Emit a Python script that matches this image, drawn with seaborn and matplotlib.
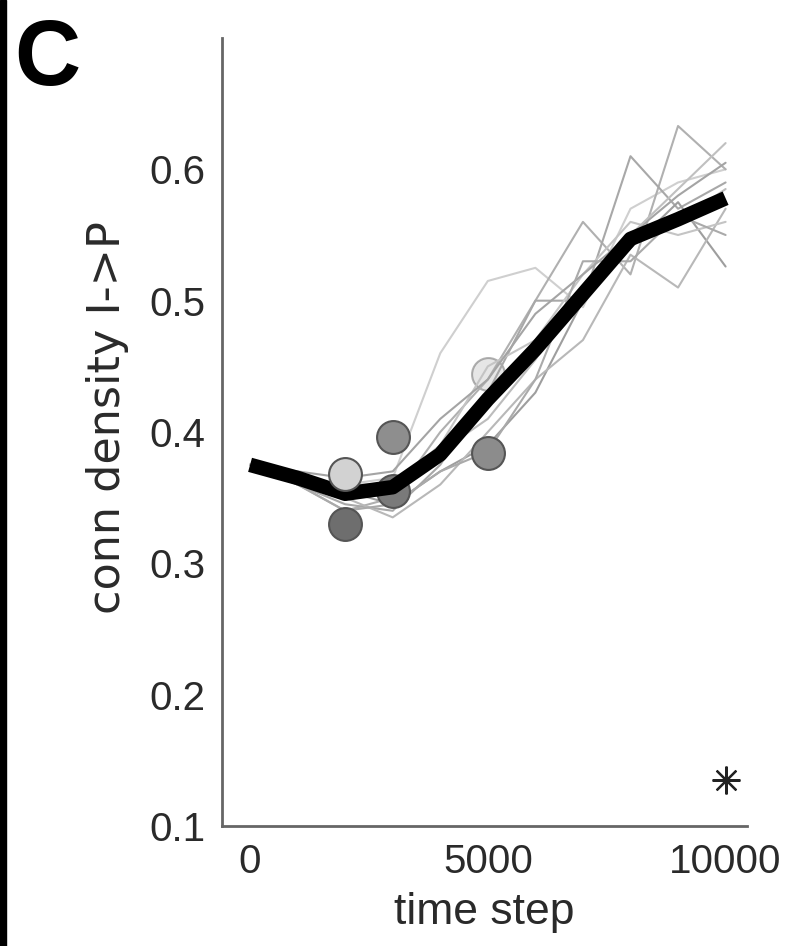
import matplotlib
matplotlib.use("Agg")
import matplotlib.pyplot as plt
import seaborn as sns
import pandas as pd
from matplotlib.patches import Rectangle

# ---- data ----
time_steps = [0, 1000, 2000, 3000, 4000, 5000, 6000, 7000, 8000, 9000, 10000]

run01 = [0.375, 0.365, 0.360, 0.365, 0.460, 0.515, 0.525, 0.495, 0.570, 0.590, 0.600]
run02 = [0.375, 0.360, 0.340, 0.350, 0.400, 0.440, 0.500, 0.560, 0.520, 0.633, 0.600]
run03 = [0.375, 0.360, 0.345, 0.340, 0.375, 0.430, 0.500, 0.500, 0.610, 0.570, 0.590]
run04 = [0.375, 0.365, 0.355, 0.345, 0.370, 0.390, 0.430, 0.500, 0.540, 0.575, 0.526]
run05 = [0.375, 0.360, 0.350, 0.335, 0.360, 0.400, 0.440, 0.470, 0.535, 0.510, 0.570]
run06 = [0.375, 0.365, 0.355, 0.350, 0.390, 0.450, 0.470, 0.520, 0.560, 0.550, 0.560]
run07 = [0.375, 0.370, 0.365, 0.370, 0.410, 0.440, 0.490, 0.520, 0.550, 0.580, 0.605]
run08 = [0.375, 0.365, 0.350, 0.355, 0.385, 0.410, 0.455, 0.510, 0.545, 0.560, 0.585]
run09 = [0.375, 0.360, 0.340, 0.345, 0.370, 0.385, 0.440, 0.530, 0.530, 0.565, 0.550]
run10 = [0.375, 0.365, 0.360, 0.360, 0.390, 0.420, 0.470, 0.500, 0.550, 0.585, 0.620]
runs = [run01, run02, run03, run04, run05, run06, run07, run08, run09, run10]
run_colors = ["#cfcfcf", "#b0b0b0", "#a8a8a8", "#9e9e9e", "#b8b8b8",
              "#c4c4c4", "#a4a4a4", "#bcbcbc", "#aaaaaa", "#c0c0c0"]

mean_density = [0.375, 0.365, 0.353, 0.358, 0.383, 0.425, 0.463, 0.505, 0.547, 0.562, 0.578]

marker_t = [2000, 2000, 3000, 3000, 5000, 5000]
marker_v = [0.330, 0.368, 0.396, 0.355, 0.384, 0.444]
marker_fc = ["#6e6e6e", "#d2d2d2", "#8e8e8e", "#7a7a7a", "#8c8c8c", "#c8c8c8"]
marker_alpha = [1.0, 1.0, 1.0, 1.0, 1.0, 0.45]
marker_z = [5, 5, 5, 3, 5, 1.5]

star_t = [10000]
star_v = [0.135]

x_ticks = [0, 5000, 10000]
y_ticks = [0.1, 0.2, 0.3, 0.4, 0.5, 0.6]
x_label = "time step"
y_label = "conn density I->P"
panel_label = "C"

# ---- style ----
sns.set_style("white")
plt.rcParams["font.family"] = ["Liberation Sans", "DejaVu Sans"]

fig = plt.figure(figsize=(7.93, 9.46), dpi=100)
ax = fig.add_axes([222 / 793, 1 - 826 / 946, (747 - 222) / 793, (826 - 38) / 946])

rows = []
for i, r in enumerate(runs):
    for t, v in zip(time_steps, r):
        rows.append({"t": t, "v": v, "run": f"r{i}"})
df = pd.DataFrame(rows)
sns.lineplot(data=df, x="t", y="v", hue="run", units="run", estimator=None,
             palette=run_colors, linewidth=1.5, legend=False, ax=ax, zorder=2)

sns.lineplot(x=time_steps, y=mean_density, color="black", linewidth=10.5,
             ax=ax, zorder=4, solid_joinstyle="round", solid_capstyle="butt")

for t, v, fc, a, z in zip(marker_t, marker_v, marker_fc, marker_alpha, marker_z):
    sns.scatterplot(x=[t], y=[v], s=560, color=fc, edgecolor="#555555",
                    linewidth=1.5, alpha=a, ax=ax, zorder=z, legend=False)

ax.plot(star_t, star_v, marker=(8, 2, 0), markersize=20, color="#222222",
        markeredgewidth=1.6, linestyle="none", zorder=6)

ax.set_xlim(-590, 10450)
ax.set_ylim(0.1, 0.7)
ax.set_xticks(x_ticks)
ax.set_xticklabels([str(x) for x in x_ticks])
ax.set_yticks(y_ticks)
ax.set_yticklabels([f"{y:.1f}" for y in y_ticks])
ax.tick_params(axis="both", direction="in", length=6, width=1.5, colors="#555555",
               labelsize=29, labelcolor="#2a2a2a", pad=12)
ax.set_xlabel(x_label, fontsize=32, color="#2a2a2a", labelpad=8)
ax.set_ylabel(y_label, fontsize=32, color="#2a2a2a",
              family=["DejaVu Sans"])
ax.yaxis.set_label_coords(-0.178, 0.518)

sns.despine(ax=ax, top=True, right=True)
for s in ["left", "bottom"]:
    ax.spines[s].set_color("#666666")
    ax.spines[s].set_linewidth(2)

fig.text(14 / 793, 1 - 85 / 946, panel_label, fontsize=66, fontweight="bold",
         va="baseline", ha="left", color="black")
fig.patches.append(Rectangle((0, 0), 6 / 793, 1, transform=fig.transFigure,
                             color="black", zorder=10))

fig.savefig("out.png", dpi=100, facecolor="white")
